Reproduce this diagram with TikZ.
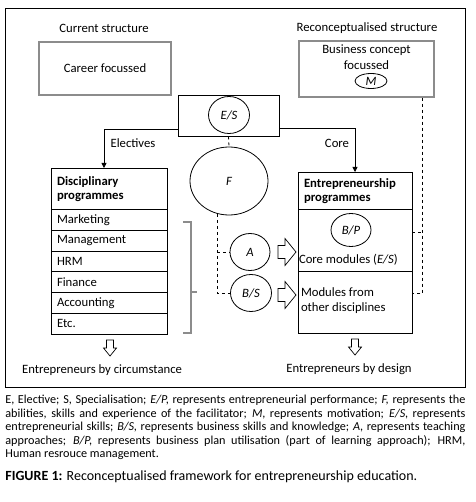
\documentclass[tikz,border=0pt]{standalone}
\usepackage{fontspec}
\setmainfont{Carlito}
\usetikzlibrary{arrows.meta,shapes.geometric}
\begin{document}
\fontsize{12.7}{14.5}\selectfont
\begin{tikzpicture}[x=1pt,y=-1pt,line width=0.8pt,
  box/.style={draw,inner sep=0pt},
  graybox/.style={draw=black!45,line width=1.1pt,inner sep=0pt},
  oval/.style={draw,ellipse,inner sep=0pt,font=\itshape},
  row/.style={draw,minimum width=116,text width=104,inner xsep=6pt,inner ysep=1pt,minimum height=20.8,align=left,anchor=north},
  hollow/.pic={\draw[line width=0.7pt] (-9,-6.5) -- (-2,-6.5) -- (-2,-13.5) -- (9,0) -- (-2,13.5) -- (-2,6.5) -- (-9,6.5) -- cycle;},
  hollowdown/.pic={\draw[line width=0.7pt] (-3.5,-8) -- (3.5,-8) -- (3.5,0) -- (6.5,0) -- (0,8) -- (-6.5,0) -- (-3.5,0) -- cycle;},
  link/.style={-{Triangle[length=5pt,width=5pt]}}]
\useasboundingbox (0,0) rectangle (475,502);
\draw (5,8) rectangle (465,387);
% structures
\node (cur) at (104,28) {Current structure};
\node (recon) at (367,28) {Reconceptualised structure};
\node[graybox,minimum width=132,minimum height=53] (career) at (105,68.5) {Career focussed};
\node[graybox,minimum width=135,minimum height=56] (biz) at (366.5,69) {};
\node[align=center] (biztext) at (366.5,57) {Business concept\\[1.5pt]focussed};
\node[oval,minimum width=32,minimum height=15] (M) at (371,81) {M};
% E/S and F
\node[box,minimum width=101,minimum height=41] (esbox) at (228.5,115.5) {};
\node[oval,minimum width=41,minimum height=37] (es) at (229,115) {E/S};
\node (elec) at (133,143) {Electives}; \node (core lbl) at (337,143) {Core};
\node[oval,minimum width=78,minimum height=68] (F) at (229,181) {F};
% disciplinary programmes
\node[row,minimum height=41,font=\bfseries] (disc) at (109,168) {Disciplinary\\programmes};
\foreach \t [count=\i] in {Marketing,Management,HRM,Finance,Accounting,Etc.}
  \node[row] (r\i) at (109,{209+(\i-1)*20.8}) {\t};
\draw[black!45,line width=1.1pt] (183,222) -| (191,333) -- (183,333); \draw[black!45,line width=1.1pt] (191,292) -- (197,292);
% entrepreneurship programmes
\node[row,minimum width=114,text width=102,minimum height=37,font=\bfseries] (ent) at (355,172) {Entrepreneurship\\programmes};
\node[box,minimum width=114,minimum height=62,anchor=north] (core) at (355,209) {};
\node[oval,minimum width=40,minimum height=33] (bp) at (351,230) {B/P};
\node[anchor=west,inner xsep=1pt] (coretext) at (core.west |- 0,260) {Core modules (\textit{E/S})};
\node[anchor=west,align=left,inner xsep=3pt] (othertext) at (core.west |- 0,300.5) {Modules from\\[1pt]other disciplines};
\node[box,minimum width=114,minimum height=62,anchor=north] (other) at (355,271) {};
% approaches
\node[oval,minimum width=40,minimum height=37] (A) at (250,252) {A};
\node[oval,minimum width=41,minimum height=37] (bs) at (251,293) {B/S};
\pic at (287,252) {hollow}; \pic at (287,295) {hollow};
% connectors
\draw[link] ([yshift=7]esbox.south west) -| ([xshift=-5]disc.north);
\draw[link] ([yshift=8]esbox.south east) -| (ent.north);
\draw[dashed] (esbox.south) -- (F.north);
\draw[dashed] (F.250) |- (bs.west); \draw[dashed] (F.250 |- A.west) -- (A.west);
\draw[dashed] ([xshift=-12]biz.south east) |- ([yshift=9]other.east);
\draw[dashed] ([yshift=8]core.east) -- +(10,0);
% outcomes
\pic at (110,348) {hollowdown}; \pic at (355,347) {hollowdown};
\node (circ) at (102,370) {Entrepreneurs by circumstance};
\node (design) at (349,369) {Entrepreneurs by design};
% legend
\node[anchor=north west,text width=460,align=justify,inner sep=0pt,font=\fontsize{12.2}{13.4}\selectfont] (legend) at (5,395) {E, Elective; S, Specialisation; \textit{E/P,} represents entrepreneurial performance; \textit{F,} represents the\linebreak abilities, skills and experience of the facilitator; \textit{M,} represents motivation; \textit{E/S,} represents\linebreak entrepreneurial skills; \textit{B/S,} represents business skills and knowledge; \textit{A,} represents teaching\linebreak approaches; \textit{B/P,} represents business plan utilisation (part of learning approach); HRM,\linebreak Human resrouce management.};
\node[anchor=west,inner sep=0pt,font=\fontsize{14}{16}\selectfont] (caption) at (5,477) {\textbf{FIGURE 1:} Reconceptualised framework for entrepreneurship education.};
\end{tikzpicture}
\end{document}
